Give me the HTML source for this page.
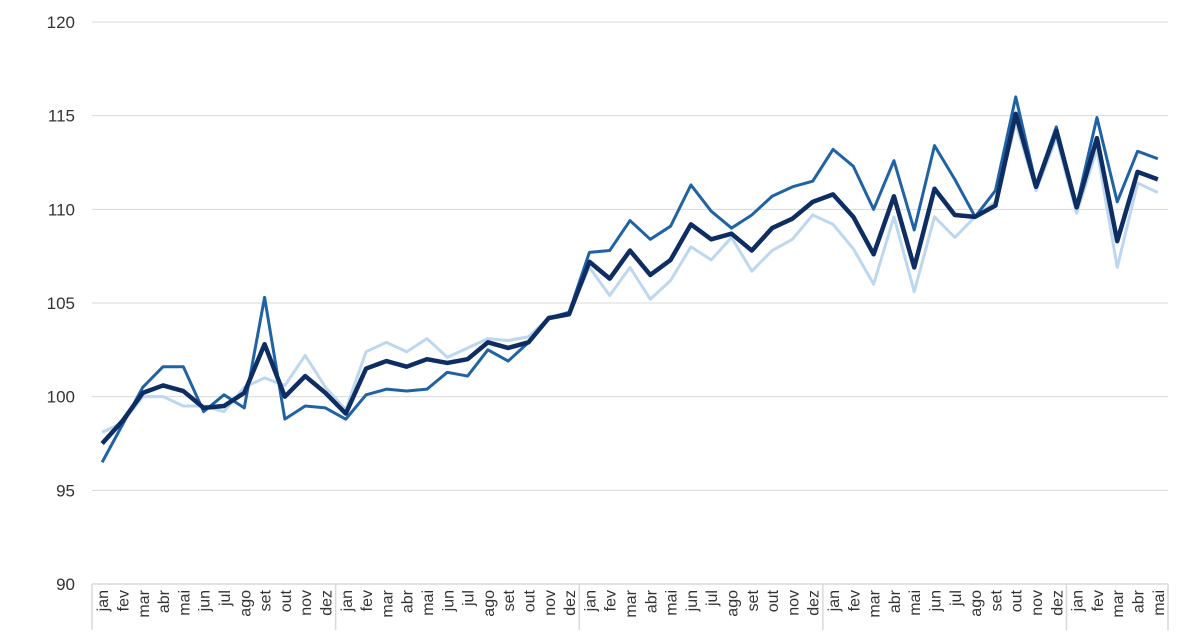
<!DOCTYPE html>
<html><head><meta charset="utf-8"><style>
body{margin:0;background:#fff;width:1200px;height:630px;overflow:hidden;font-family:"Liberation Sans",sans-serif}
</style></head><body>
<svg id="chart" width="1200" height="630" xmlns="http://www.w3.org/2000/svg"></svg>
<script>
const monthLabels=["jan","fev","mar","abr","mai","jun","jul","ago","set","out","nov","dez"];
const yTicks=[90,95,100,105,110,115,120];
const seriesDark=[97.5,98.7,100.2,100.6,100.3,99.4,99.5,100.2,102.8,100.0,101.1,100.2,
99.1,101.5,101.9,101.6,102.0,101.8,102.0,102.9,102.6,102.9,104.2,104.4,
107.2,106.3,107.8,106.5,107.3,109.2,108.4,108.7,107.8,109.0,109.5,110.4,
110.8,109.6,107.6,110.7,106.9,111.1,109.7,109.6,110.2,115.1,111.2,114.2,
110.1,113.8,108.3,112.0,111.6];
const seriesBlue=[96.5,98.5,100.5,101.6,101.6,99.2,100.1,99.4,105.3,98.8,99.5,99.4,
98.8,100.1,100.4,100.3,100.4,101.3,101.1,102.5,101.9,102.9,104.2,104.5,
107.7,107.8,109.4,108.4,109.1,111.3,109.9,109.0,109.7,110.7,111.2,111.5,
113.2,112.3,110.0,112.6,108.9,113.4,111.6,109.6,111.0,116.0,111.3,114.4,
110.2,114.9,110.4,113.1,112.7];
const seriesLight=[98.1,98.6,100.0,100.0,99.5,99.5,99.2,100.5,101.0,100.6,102.2,100.5,
99.3,102.4,102.9,102.4,103.1,102.1,102.6,103.1,103.0,103.2,104.2,104.5,
106.9,105.4,106.9,105.2,106.2,108.0,107.3,108.5,106.7,107.8,108.4,109.7,
109.2,107.9,106.0,109.6,105.6,109.6,108.5,109.6,110.4,114.6,111.0,113.8,
109.8,113.2,106.9,111.4,110.9];

const NS="http://www.w3.org/2000/svg";
const svg=document.getElementById('chart');
const x0=92,x1=1168,yTop=22,yBot=584,vMin=90,vMax=120;
const n=seriesDark.length;
const cw=(x1-x0)/n;
const xs=i=>x0+cw*(i+0.5);
const ys=v=>yBot-(v-vMin)/(vMax-vMin)*(yBot-yTop);
function mk(t,a){const e=document.createElementNS(NS,t);for(const k in a)e.setAttribute(k,a[k]);svg.appendChild(e);return e;}

yTicks.forEach(t=>{
  if(t>vMin){const g=mk('line',{x1:x0,x2:x1,y1:ys(t),y2:ys(t),stroke:'#d9d9d9','stroke-width':1});
  
  }
  const l=mk('text',{x:75,y:ys(t)+6,'text-anchor':'end','font-size':17,fill:'#333'});
  l.textContent=t;
  
  
});
const ax=mk('line',{x1:x0,x2:x1,y1:yBot,y2:yBot,stroke:'#d9d9d9','stroke-width':1.5});


for(let i=0;i<=n;i+=12){
  const xx=Math.min(x0+cw*i,x1);
  const s=mk('line',{x1:xx,x2:xx,y1:yBot,y2:630,stroke:'#d9d9d9','stroke-width':1.5});
  
  
}
const se=mk('line',{x1:x1,x2:x1,y1:yBot,y2:630,stroke:'#d9d9d9','stroke-width':1.5});


for(let i=0;i<n;i++){
  const xx=xs(i)+6;
  const t=mk('text',{x:0,y:0,'text-anchor':'end','font-size':16,fill:'#333',transform:`translate(${xx},590) rotate(-90)`});
  t.textContent=monthLabels[i%12];
  
  
}
function line(data,color,w,name){
  const p=mk('polyline',{points:data.map((v,i)=>xs(i)+','+ys(v)).join(' '),fill:'none',stroke:color,'stroke-width':w,'stroke-linejoin':'round'});
  
  
}
line(seriesLight,'#bdd7ee',3,'series-light');
line(seriesBlue,'#1f63a5',3,'series-blue');
line(seriesDark,'#0e2d63',4.5,'series-dark');
</script>
</body></html>
